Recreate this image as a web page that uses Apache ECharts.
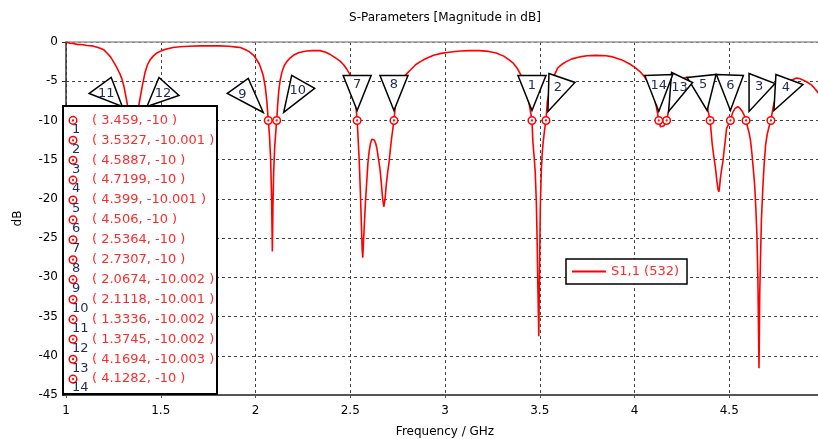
<!DOCTYPE html>
<html><head><meta charset="utf-8">
<script src="https://cdn.jsdelivr.net/npm/echarts@6/dist/echarts.min.js"></script>
<style>html,body{margin:0;padding:0;background:#fff}#c{width:818px;height:439px}</style>
</head><body><div id="c"></div>
<script>
// ---------- DATA ----------
const chartTitle = 'S-Parameters [Magnitude in dB]';
const xName = 'Frequency / GHz';
const yName = 'dB';
const seriesName = 'S1,1 (532)';

const freq = [
  1.000, 1.020, 1.037, 1.060, 1.090, 1.110, 1.140, 1.160, 1.180, 1.200, 1.216, 1.235, 1.250, 1.265, 1.275, 1.285, 1.295, 1.305, 1.315, 1.327, 1.3336,
  1.340, 1.346, 1.352, 1.356, 1.360, 1.366, 1.3745,
  1.385, 1.395, 1.405, 1.417, 1.430, 1.443, 1.460, 1.480, 1.505, 1.530, 1.565, 1.600, 1.650, 1.710, 1.760, 1.810, 1.860, 1.900, 1.920, 1.945, 1.965, 1.990, 2.005, 2.020, 2.032, 2.042, 2.052, 2.060, 2.0674,
  2.074, 2.080, 2.085, 2.089, 2.092, 2.096, 2.101, 2.106, 2.1118,
  2.117, 2.123, 2.130, 2.140, 2.152, 2.165, 2.180, 2.200, 2.230, 2.270, 2.300, 2.340, 2.370, 2.395, 2.420, 2.445, 2.465, 2.480, 2.495, 2.510, 2.520, 2.528, 2.5364,
  2.542, 2.548, 2.554, 2.559, 2.563, 2.566, 2.570, 2.575, 2.580, 2.586, 2.593, 2.600, 2.607, 2.614, 2.620, 2.627, 2.634, 2.641, 2.648, 2.656, 2.664, 2.671, 2.677, 2.683, 2.690, 2.698, 2.705, 2.712, 2.718, 2.7307,
  2.740, 2.750, 2.765, 2.780, 2.800, 2.820, 2.845, 2.870, 2.900, 2.940, 2.980, 3.020, 3.080, 3.130, 3.180, 3.230, 3.270, 3.310, 3.340, 3.360, 3.380, 3.400, 3.415, 3.430, 3.445, 3.459,
  3.464, 3.470, 3.476, 3.482, 3.486, 3.490, 3.495, 3.499, 3.503, 3.508, 3.513, 3.518, 3.525, 3.5327,
  3.540, 3.555, 3.570, 3.595, 3.620, 3.640, 3.670, 3.710, 3.750, 3.800, 3.850, 3.885, 3.930, 3.975, 4.000, 4.030, 4.055, 4.080, 4.100, 4.115, 4.1282,
  4.137, 4.145, 4.155, 4.1694, 4.180, 4.190, 4.205, 4.220, 4.240, 4.260, 4.280, 4.300, 4.320, 4.340, 4.360, 4.375, 4.386, 4.399,
  4.405, 4.410, 4.418, 4.427, 4.435, 4.441, 4.445, 4.449, 4.453, 4.460, 4.466, 4.472, 4.478, 4.486, 4.496, 4.506, 4.518, 4.530, 4.545, 4.558, 4.570, 4.580, 4.5887,
  4.596, 4.604, 4.612, 4.620, 4.628, 4.634, 4.640, 4.646, 4.651, 4.657, 4.661, 4.665, 4.670, 4.678, 4.685, 4.692, 4.700, 4.710, 4.7199,
  4.728, 4.736, 4.750, 4.770, 4.790, 4.810, 4.834, 4.855, 4.870, 4.885, 4.910, 4.935, 4.950, 4.970, 5.000
];
const s11 = [
  0.0, -0.15, -0.2, -0.3, -0.35, -0.45, -0.5, -0.65, -0.8, -1.0, -1.4, -1.9, -2.5, -3.1, -3.6, -4.1, -4.7, -5.6, -6.8, -8.4, -10.0,
  -13, -18, -26, -30, -24, -15, -10.002,
  -8.0, -6.6, -5.3, -3.9, -2.9, -2.3, -1.8, -1.4, -1.1, -0.9, -0.7, -0.6, -0.55, -0.5, -0.5, -0.5, -0.55, -0.65, -0.7, -0.95, -1.2, -1.7, -2.2, -2.8, -3.6, -4.4, -5.8, -7.6, -10.0,
  -12, -15, -20, -26.7, -21, -16.5, -13.5, -11.8, -10.0,
  -8.0, -6.2, -4.9, -3.8, -3.0, -2.5, -2.1, -1.7, -1.35, -1.15, -1.1, -1.1, -1.3, -1.6, -2.0, -2.4, -2.9, -3.4, -4.0, -4.9, -6.0, -7.6, -10.0,
  -12.5, -15.5, -19.5, -23.5, -26.5, -27.5, -25.5, -23, -20.5, -18.2, -15.5, -13.9, -12.9, -12.4, -12.3, -12.5, -12.9, -13.6, -14.8, -16, -18, -20, -21, -20.2, -18.2, -16.5, -15.3, -13.6, -12.3, -10.0,
  -7.6, -5.9, -5.0, -4.5, -4.0, -3.5, -2.9, -2.5, -2.1, -1.7, -1.45, -1.3, -1.15, -1.1, -1.1, -1.2, -1.4, -1.8, -2.3, -2.7, -3.3, -4.2, -5.2, -6.5, -8.0, -10.0,
  -12.8, -14.5, -16.5, -20.4, -25, -31, -37.5, -29, -21, -16.5, -14.2, -12.8, -11.3, -10.0,
  -7.6, -5.8, -4.6, -3.3, -2.8, -2.5, -2.15, -1.9, -1.75, -1.7, -1.75, -1.9, -2.25, -2.8, -3.2, -3.8, -4.5, -5.5, -6.8, -8.2, -10.0,
  -10.8, -11.0, -10.7, -10.0, -8.8, -7.6, -6.4, -5.5, -4.9, -4.6, -4.5, -4.6, -4.9, -5.5, -6.4, -7.4, -8.5, -10.0,
  -11.6, -13.0, -14.5, -16.0, -17.8, -18.8, -19.1, -18.5, -17.4, -16.2, -15.3, -14.0, -12.8, -11.0, -10.5, -10.0, -9.0, -8.5, -8.25, -8.5, -8.9, -9.4, -10.0,
  -10.8, -11.5, -12.5, -14.3, -16.5, -18.2, -21, -24.6, -30, -41.6, -32, -27.5, -22.5, -18.2, -15.3, -13.1, -11.8, -10.8, -10.0,
  -8.8, -7.8, -6.8, -6.0, -5.4, -5.0, -4.8, -4.6, -4.65, -4.8, -5.1, -5.5, -5.9, -6.5, -7.5
];

const markerIds  = ['1', '2', '3', '4', '5', '6', '7', '8', '9', '10', '11', '12', '13', '14'];
const markerFreq = [3.459, 3.5327, 4.5887, 4.7199, 4.399, 4.506, 2.5364, 2.7307, 2.0674, 2.1118, 1.3336, 1.3745, 4.1694, 4.1282];
const markerVal  = [-10, -10.001, -10, -10, -10.001, -10, -10, -10, -10.002, -10.001, -10.002, -10.002, -10.003, -10];

// ---------- STYLE ----------
const FONT = 'DejaVu Sans';
const RED = '#ff0000';
const TXT_RED = '#ff2a2a';
const NAVY = '#1c2a5c';
// flag (triangle) shapes: pixel offsets relative to the marker point
const flagShapes = {
  '1':  {pts: [[-14,-45],[14,-45],[0,-10]], lbl: [0,-35]},
  '2':  {pts: [[3,-47],[29,-38],[2,-9]],    lbl: [12,-33]},
  '3':  {pts: [[3,-47],[29,-37],[3,-9]],    lbl: [13,-34]},
  '4':  {pts: [[5,-46],[32,-36],[3,-10]],   lbl: [15,-33]},
  '5':  {pts: [[-23,-43],[6,-46],[-3,-10]], lbl: [-7,-36]},
  '6':  {pts: [[-14,-46],[13,-45],[0,-10]], lbl: [0,-35]},
  '7':  {pts: [[-14,-45],[14,-45],[0,-10]], lbl: [0,-36]},
  '8':  {pts: [[-14,-45],[14,-45],[0,-10]], lbl: [0,-36]},
  '9':  {pts: [[-41,-27],[-20,-42],[-5,-8]], lbl: [-26,-26]},
  '10': {pts: [[7,-8],[15,-45],[38,-32]],   lbl: [21,-30]},
  '11': {pts: [[-40,-27],[-18,-43],[-7,-14]], lbl: [-23,-27]},
  '12': {pts: [[10,-14],[22,-43],[42,-25]], lbl: [26,-27]},
  '13': {pts: [[2,-9],[5,-48],[26,-38]],    lbl: [13,-33]},
  '14': {pts: [[-14,-45],[14,-46],[0,-9]],  lbl: [0,-35]}
};

const chart = echarts.init(document.getElementById('c'), null, {renderer: 'canvas'});

const lineData = freq.map((f, i) => [f, s11[i]]);
const markerData = markerFreq.map((f, i) => [f, markerVal[i]]);

// marker list box
const boxX = 63, boxY = 106, boxW = 154, boxH = 288;
const rowY0 = 120.4, rowDy = 19.9;
const listGraphics = [{
  type: 'rect', z: 100, shape: {x: boxX, y: boxY, width: boxW, height: boxH},
  style: {fill: '#fff', stroke: '#000', lineWidth: 2}
}];
markerIds.forEach((id, i) => {
  const cy = rowY0 + rowDy * i;
  listGraphics.push(
    {type: 'circle', z: 101, shape: {cx: 73, cy: cy, r: 3.8}, style: {fill: '#fff', stroke: RED, lineWidth: 1.5}},
    {type: 'circle', z: 101, shape: {cx: 73, cy: cy, r: 1.1}, style: {fill: RED}},
    {type: 'text', z: 102, x: 72, y: cy + 9, style: {text: id, fill: NAVY, font: '13px ' + FONT, align: 'left', verticalAlign: 'middle'}},
    {type: 'text', z: 102, x: 92, y: cy, style: {text: '( ' + markerFreq[i] + ', ' + markerVal[i] + ' )', fill: TXT_RED, font: '13px ' + FONT, align: 'left', verticalAlign: 'middle'}}
  );
});

const option = {
  animation: false,
  backgroundColor: '#fff',
  textStyle: {fontFamily: FONT},
  grid: {left: 66, top: 42, width: 758, height: 353, outerBoundsMode: 'none', containLabel: false},
  legend: {
    data: [{name: seriesName, icon: 'rect'}], left: 566, top: 259, padding: [6, 8, 6, 6],
    backgroundColor: '#fff', borderColor: '#000', borderWidth: 1.5, borderRadius: 0,
    itemWidth: 34, itemHeight: 2, itemGap: 6,
    itemStyle: {color: RED},
    textStyle: {color: TXT_RED, fontSize: 13, fontFamily: FONT}
  },
  graphic: [
    {type: 'text', x: 445, y: 18, style: {text: chartTitle, fill: '#000', font: '12px ' + FONT, align: 'center', verticalAlign: 'middle'}}
  ].concat(listGraphics),
  xAxis: [{
    type: 'value', min: 1, max: 5, interval: 0.5,
    name: xName, nameLocation: 'middle', nameGap: 31,
    nameTextStyle: {color: '#000', fontSize: 12, fontFamily: FONT},
    axisLine: {show: true, onZero: false, lineStyle: {color: '#555', width: 2}},
    axisTick: {show: true, length: 3, lineStyle: {color: '#555'}},
    axisLabel: {color: '#000', fontSize: 12, margin: 10, fontFamily: FONT},
    splitLine: {show: true, lineStyle: {color: '#444', type: [3, 3], width: 1}}
  }, {
    type: 'value', min: 1, max: 5, position: 'top',
    axisLine: {show: true, onZero: false, lineStyle: {color: '#9a9a9a', width: 1.5}},
    axisTick: {show: false}, axisLabel: {show: false}, splitLine: {show: false}
  }],
  yAxis: {
    type: 'value', min: -45, max: 0, interval: 5,
    name: yName, nameLocation: 'middle', nameGap: 42, nameRotate: 90,
    nameTextStyle: {color: '#000', fontSize: 12, fontFamily: FONT},
    axisLine: {show: true, onZero: false, lineStyle: {color: '#333', width: 1.5}},
    axisTick: {show: true, length: 4, lineStyle: {color: '#333'}},
    axisLabel: {color: '#000', fontSize: 12, margin: 8, fontFamily: FONT},
    splitLine: {show: true, lineStyle: {color: '#444', type: [3, 3], width: 1}}
  },
  series: [{
    name: seriesName, type: 'line', data: lineData, symbol: 'none', showSymbol: false, smooth: false,
    lineStyle: {color: RED, width: 1.6}, itemStyle: {color: RED}, z: 3, clip: true
  }, {
    type: 'custom', data: markerData, z: 5, clip: false,
    renderItem: function (params, api) {
      const i = params.dataIndex;
      const p = api.coord([api.value(0), api.value(1)]);
      const sh = flagShapes[markerIds[i]];
      return {type: 'group', children: [
        {type: 'polygon', shape: {points: sh.pts.map(o => [p[0] + o[0], p[1] + o[1]])},
          style: {fill: '#fff', stroke: '#000', lineWidth: 1.5}},
        {type: 'text', x: p[0] + sh.lbl[0], y: p[1] + sh.lbl[1],
          style: {text: markerIds[i], fill: NAVY, font: '13px ' + FONT, align: 'center', verticalAlign: 'middle'}},
        {type: 'circle', shape: {cx: p[0], cy: p[1], r: 3.8}, style: {fill: '#fff', stroke: RED, lineWidth: 1.5}},
        {type: 'circle', shape: {cx: p[0], cy: p[1], r: 1.1}, style: {fill: RED}}
      ]};
    }
  }]
};
chart.setOption(option);
</script>
</body></html>
